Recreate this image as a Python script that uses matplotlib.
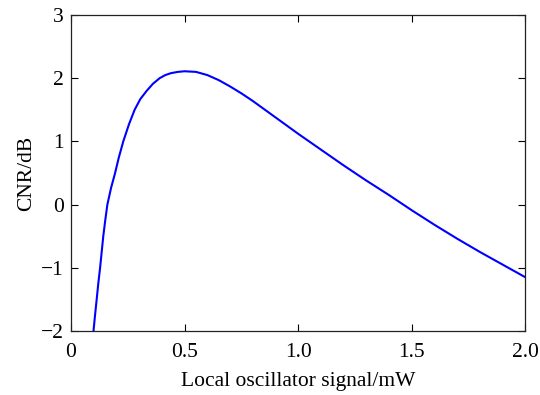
#!/usr/bin/env python3

from matplotlib import pyplot, ticker

# data
power_mw = [0.099, 0.106, 0.113, 0.12, 0.128, 0.135, 0.142, 0.151, 0.16, 0.176,
            0.194, 0.21, 0.23, 0.255, 0.28, 0.305, 0.333, 0.36, 0.39, 0.415,
            0.44, 0.47, 0.5, 0.55, 0.6, 0.65, 0.7, 0.75, 0.8, 0.9, 1.0, 1.1,
            1.2, 1.3, 1.4, 1.5, 1.6, 1.7, 1.8, 1.9, 2.0]
cnr_db = [-2.0, -1.74, -1.5, -1.25, -1.0, -0.75, -0.5, -0.24, 0.0, 0.26,
          0.5, 0.74, 1.0, 1.27, 1.5, 1.67, 1.8, 1.91, 2.0, 2.05,
          2.08, 2.1, 2.11, 2.1, 2.05, 1.97, 1.87, 1.76, 1.64, 1.38, 1.12, 0.87,
          0.62, 0.38, 0.15, -0.09, -0.32, -0.54, -0.75, -0.95, -1.15]
x_ticks = [0, 0.5, 1.0, 1.5, 2.0]
x_labels = ["0", "0.5", "1.0", "1.5", "2.0"]
y_ticks = [-2, -1, 0, 1, 2, 3]

pyplot.rcParams["font.family"] = ["Liberation Serif", "DejaVu Serif"]

figure = pyplot.figure(figsize=(5.4, 3.95), dpi=100)
axis = figure.add_axes([0.1315, 0.162, 0.8415, 0.8])
axis.plot(power_mw, cnr_db, color="#0000ff", linewidth=1.5)

axis.set_xlim(0, 2.0)
axis.set_ylim(-2, 3)
axis.set_xticks(x_ticks)
axis.set_xticklabels(x_labels)
axis.set_yticks(y_ticks)
axis.yaxis.set_major_formatter(ticker.FuncFormatter(
    lambda v, p: ("\u2212%d" % -v) if v < 0 else "%d" % v))
axis.tick_params(direction="in", top=True, right=True, length=5,
                 width=0.8, labelsize=15.5, pad=5)
axis.tick_params(axis="x", pad=8.5)
for spine in axis.spines.values():
    spine.set_linewidth(0.9)
    spine.set_color("#222222")

axis.set_xlabel("Local oscillator signal/mW", fontsize=15.5, labelpad=7.5)
axis.set_ylabel("CNR/dB", fontsize=15.5, labelpad=4)

pyplot.savefig("out.png", dpi=100)
